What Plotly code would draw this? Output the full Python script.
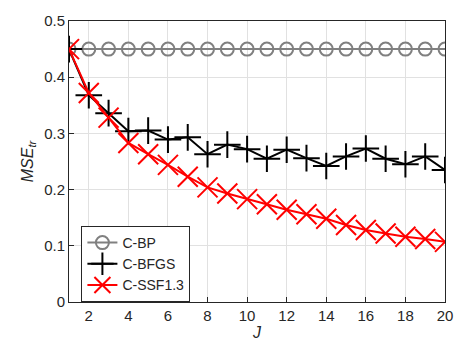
import plotly.graph_objects as go

J = list(range(1, 21))
mse_bp = [0.45] * 20
mse_bfgs = [0.450, 0.368, 0.336, 0.304, 0.305, 0.289, 0.293, 0.263, 0.280, 0.272,
            0.255, 0.271, 0.256, 0.242, 0.259, 0.273, 0.255, 0.245, 0.259, 0.235]
mse_ssf = [0.450, 0.372, 0.328, 0.283, 0.263, 0.244, 0.223, 0.204, 0.193, 0.183,
           0.174, 0.164, 0.156, 0.148, 0.137, 0.128, 0.122, 0.116, 0.112, 0.107]
x_ticks = [2, 4, 6, 8, 10, 12, 14, 16, 18, 20]
y_ticks = [0, 0.1, 0.2, 0.3, 0.4, 0.5]
y_tick_text = ["0", "0.1", "0.2", "0.3", "0.4", "0.5"]

fig = go.Figure()
fig.add_trace(go.Scatter(
    x=J, y=mse_bp, name="C-BP", mode="lines+markers",
    line=dict(color="rgb(128,128,128)", width=2),
    marker=dict(symbol="circle-open", size=13, color="rgb(128,128,128)",
                line=dict(width=2, color="rgb(128,128,128)"))))
fig.add_trace(go.Scatter(
    x=J, y=mse_bfgs, name="C-BFGS", mode="lines+markers",
    line=dict(color="black", width=2),
    marker=dict(symbol="cross-thin-open", size=19, color="black",
                line=dict(width=2, color="black"))))
fig.add_trace(go.Scatter(
    x=J, y=mse_ssf, name="C-SSF1.3", mode="lines+markers",
    line=dict(color="red", width=2),
    marker=dict(symbol="x-thin-open", size=20, color="red",
                line=dict(width=2, color="red"))))

axis_common = dict(
    showline=True, linecolor="rgb(38,38,38)", linewidth=1, mirror=True,
    ticks="inside", ticklen=5, tickcolor="rgb(38,38,38)",
    showgrid=True, gridcolor="rgb(225,225,225)", gridwidth=1,
    zeroline=False,
    tickfont=dict(family="Liberation Sans, Arial", size=15, color="rgb(38,38,38)"),
)

fig.update_xaxes(range=[1, 20], tickvals=x_ticks,
                 title=dict(text="<i>J</i>", standoff=2,
                            font=dict(family="Liberation Sans, Arial", size=16, color="rgb(38,38,38)")),
                 **axis_common)
fig.update_yaxes(range=[0, 0.5], tickvals=y_ticks, ticktext=y_tick_text,
                 title=dict(text="<i>MSE</i><sub><i>tr</i></sub>", standoff=6,
                            font=dict(family="Liberation Sans, Arial", size=16, color="rgb(38,38,38)")),
                 **axis_common)

fig.update_layout(
    width=465, height=349,
    margin=dict(l=69, r=15, t=12, b=42),
    plot_bgcolor="white", paper_bgcolor="white",
    showlegend=True,
    legend=dict(x=0.033, y=0.0, xanchor="left", yanchor="bottom",
                bgcolor="white", bordercolor="rgb(38,38,38)", borderwidth=1,
                font=dict(family="Liberation Sans, Arial", size=14, color="rgb(38,38,38)"),
                tracegroupgap=0, itemwidth=30),
)

fig.write_html("out.html")
